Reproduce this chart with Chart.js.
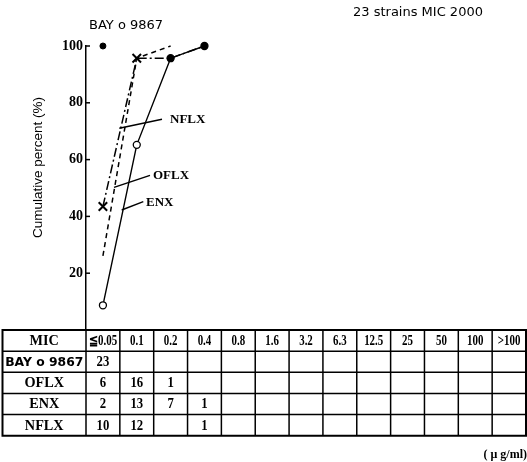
<!DOCTYPE html>
<html>
<head>
<meta charset="utf-8">
<script src="https://cdn.jsdelivr.net/npm/chart.js@4/dist/chart.umd.min.js"></script>
<style>
  html, body { margin: 0; padding: 0; background: #fff; }
  #wrap { width: 527px; height: 462px; }
</style>
</head>
<body>
<div id="wrap"><canvas id="c" width="527" height="462"></canvas></div>
<script>
// MIC classes (µg/ml) used as table columns and x positions
const micLabels = ['≦0.05', '0.1', '0.2', '0.4', '0.8', '1.6', '3.2', '6.3', '12.5', '25', '50', '100', '>100'];
const drugNames = ['BAY o 9867', 'OFLX', 'ENX', 'NFLX'];

// number of strains at each MIC
const countsBAY  = [23];
const countsOFLX = [6, 16, 1];
const countsENX  = [2, 13, 7, 1];
const countsNFLX = [10, 12, null, 1];

// cumulative percent of 23 strains inhibited
const cumBAY  = [100];
const cumOFLX = [26.1, 95.7, 100];
const cumENX  = [8.7, 65.2, 95.7, 100];
const cumNFLX = [43.5, 95.7, 95.7, 100];

const yTicks = [20, 40, 60, 80, 100];

const toPoints = arr => arr.map((v, i) => ({ x: i, y: v }));

const SERIF = '"Liberation Serif", "DejaVu Serif", serif';
const SANS = '"DejaVu Sans", "Liberation Sans", sans-serif';

// fill text centred at (cx, cy), squeezed horizontally by sx and to fit maxW
function squeezeText(ctx, text, cx, cy, sx, maxW) {
  ctx.save();
  ctx.translate(cx, cy);
  const w = ctx.measureText(text).width * sx;
  const k = w > maxW ? sx * maxW / w : sx;
  ctx.scale(k, 1);
  ctx.fillText(text, 0, 0);
  ctx.restore();
}

// draws inward ticks, the MIC table, leader labels and headings
const extras = {
  id: 'extras',
  afterDraw(chart) {
    const ctx = chart.ctx;
    const area = chart.chartArea;
    const xs = chart.scales.x;
    const ys = chart.scales.y;
    ctx.save();
    ctx.strokeStyle = '#000';
    ctx.fillStyle = '#000';

    // inward tick marks on the y axis
    ctx.lineWidth = 1.5;
    yTicks.forEach(v => {
      const y = ys.getPixelForValue(v);
      ctx.beginPath();
      ctx.moveTo(area.left, y);
      ctx.lineTo(area.left + 4, y);
      ctx.stroke();
    });

    // y title
    ctx.save();
    ctx.translate(38, 167.5);
    ctx.rotate(-Math.PI / 2);
    ctx.font = '13.5px "Liberation Sans", sans-serif';
    ctx.textAlign = 'center';
    ctx.textBaseline = 'middle';
    ctx.fillText('Cumulative percent (%)', 0, 0);
    ctx.restore();

    // headings
    ctx.font = '13px ' + SANS;
    ctx.textBaseline = 'middle';
    ctx.textAlign = 'left';
    ctx.fillText('BAY o 9867', 89, 26);
    ctx.fillText('23 strains MIC 2000', 353, 13);

    // leader labels
    const notes = [
      { t: 'NFLX', tx: 170, ty: 120, x1: 162, y1: 119.3, x2: 119.3, y2: 128.3 },
      { t: 'OFLX', tx: 153, ty: 176, x1: 150, y1: 175.3, x2: 114, y2: 187.3 },
      { t: 'ENX',  tx: 146, ty: 203, x1: 143.3, y1: 201.7, x2: 121.7, y2: 210 }
    ];
    ctx.font = 'bold 13px ' + SERIF;
    ctx.lineWidth = 1.4;
    notes.forEach(n => {
      ctx.beginPath();
      ctx.moveTo(n.x1, n.y1);
      ctx.lineTo(n.x2, n.y2);
      ctx.stroke();
      ctx.fillText(n.t, n.tx, n.ty);
    });

    // MIC table
    const top = area.bottom;
    const rowH = 21.15;
    const nRows = 5;
    const left = 2.5;
    const edges = [left];
    for (let i = 0; i <= micLabels.length; i++) edges.push(xs.getPixelForValue(i - 0.5));
    const right = edges[edges.length - 1];
    const bottom = top + rowH * nRows;

    ctx.lineWidth = 1.5;
    for (let r = 1; r < nRows; r++) {
      const y = top + rowH * r;
      ctx.beginPath(); ctx.moveTo(left, y); ctx.lineTo(right, y); ctx.stroke();
    }
    for (let i = 1; i < edges.length - 1; i++) {
      ctx.beginPath(); ctx.moveTo(edges[i], top); ctx.lineTo(edges[i], bottom); ctx.stroke();
    }
    ctx.lineWidth = 2;
    ctx.strokeRect(left, top, right - left, bottom - top);

    ctx.textAlign = 'center';
    ctx.textBaseline = 'middle';
    const rowMid = r => top + rowH * r + rowH / 2 + 0.5;

    // header row
    ctx.font = 'bold 15px ' + SERIF;
    squeezeText(ctx, 'MIC', (edges[0] + edges[1]) / 2, rowMid(0), 0.95, 78);
    ctx.font = 'bold 14px ' + SERIF;
    micLabels.forEach((lab, i) => {
      const cx = (edges[i + 1] + edges[i + 2]) / 2;
      squeezeText(ctx, lab, cx, rowMid(0), 0.78, edges[i + 2] - edges[i + 1] - 3);
    });

    // drug rows
    const allCounts = [countsBAY, countsOFLX, countsENX, countsNFLX];
    drugNames.forEach((name, r) => {
      const cy = rowMid(r + 1);
      ctx.font = r === 0 ? 'bold 13px ' + SANS : 'bold 15px ' + SERIF;
      squeezeText(ctx, name, (edges[0] + edges[1]) / 2, cy, 0.95, 79);
      ctx.font = 'bold 15px ' + SERIF;
      allCounts[r].forEach((v, i) => {
        if (v === null || v === undefined) return;
        const cx = (edges[i + 1] + edges[i + 2]) / 2;
        squeezeText(ctx, String(v), cx, cy, 0.85, 30);
      });
    });

    // unit
    ctx.font = 'bold 12px ' + SERIF;
    ctx.textAlign = 'right';
    ctx.fillText('( μ g/ml)', 527, 455);

    ctx.restore();
  }
};

new Chart(document.getElementById('c'), {
  type: 'line',
  data: {
    datasets: [
      {
        label: 'ENX',
        data: toPoints(cumENX),
        borderColor: '#000',
        borderWidth: 1.4,
        pointStyle: 'circle',
        pointRadius: 3.5,
        pointBorderWidth: 1.3,
        pointBackgroundColor: ['#fff', '#fff', '#000', '#000'],
        pointBorderColor: '#000',
        clip: false
      },
      {
        label: 'BAY o 9867',
        data: toPoints(cumBAY),
        showLine: false,
        pointStyle: 'circle',
        pointRadius: 3,
        pointBackgroundColor: '#000',
        pointBorderColor: '#000',
        clip: false
      },
      {
        label: 'NFLX',
        data: toPoints(cumNFLX),
        borderColor: '#000',
        borderWidth: 1.5,
        borderDash: [9, 3, 2, 3],
        pointStyle: 'crossRot',
        pointRadius: [6, 6, 0, 0],
        pointBorderWidth: 2,
        pointBorderColor: '#000',
        clip: false
      },
      {
        label: 'OFLX',
        data: toPoints(cumOFLX),
        borderColor: '#000',
        borderWidth: 1.5,
        borderDash: [5, 4],
        pointRadius: 0,
        clip: false
      }
    ]
  },
  options: {
    responsive: false,
    devicePixelRatio: 1,
    animation: false,
    events: [],
    layout: { autoPadding: false, padding: { left: 0, top: 46, right: 1, bottom: 132 } },
    plugins: { legend: { display: false }, tooltip: { enabled: false } },
    scales: {
      x: { type: 'linear', min: -0.5, max: 12.5, display: false },
      y: {
        min: 0, max: 100,
        afterFit(s) { s.width = 86; },
        afterBuildTicks(s) { s.ticks = [0].concat(yTicks).map(v => ({ value: v })); },
        ticks: {
          color: '#000',
          padding: 3,
          font: { family: SERIF, size: 14, weight: 'bold' },
          callback: v => (v === 0 ? '' : String(v))
        },
        grid: { drawOnChartArea: false, drawTicks: false },
        border: { display: true, color: '#000', width: 1.5 }
      }
    }
  },
  plugins: [extras]
});
</script>
</body>
</html>
